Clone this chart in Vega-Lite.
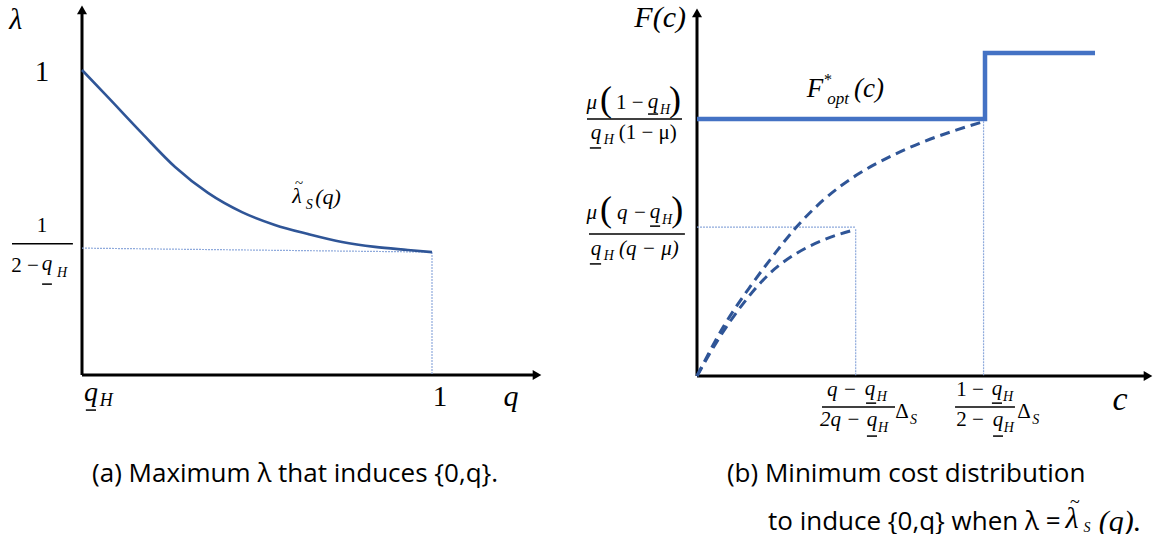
{
  "$schema": "https://vega.github.io/schema/vega-lite/v6.json",
  "autosize": "none",
  "width": 1157,
  "height": 534,
  "padding": 0,
  "background": "white",
  "config": {"view": {"stroke": null}},
  "datasets": {
    "leftAxes": [
      {"x": 0, "y": 0, "x2": 0, "y2": 1.19},
      {"x": 0, "y": 0, "x2": 1.29, "y2": 0}
    ],
    "leftArrows": [
      {"x": 0, "y": 1.197, "dir": "up"},
      {"x": 1.3, "y": 0, "dir": "right"}
    ],
    "leftGuides": [
      {"x": 0, "y": 0.416, "x2": 1, "y2": 0.403},
      {"x": 1, "y": 0.403, "x2": 1, "y2": 0}
    ],
    "lambdaCurve": [
      {"q": 0, "lambda": 1.0},
      {"q": 0.074, "lambda": 0.911},
      {"q": 0.171, "lambda": 0.793},
      {"q": 0.266, "lambda": 0.682},
      {"q": 0.36, "lambda": 0.597},
      {"q": 0.457, "lambda": 0.534},
      {"q": 0.551, "lambda": 0.492},
      {"q": 0.646, "lambda": 0.462},
      {"q": 0.743, "lambda": 0.436},
      {"q": 0.837, "lambda": 0.42},
      {"q": 0.931, "lambda": 0.41},
      {"q": 1, "lambda": 0.403}
    ],
    "leftBars": [
      {"x": -0.2, "x2": -0.026, "y": 0.43},
      {"x": -0.114, "x2": -0.086, "y": 0.298},
      {"x": 0.011, "x2": 0.04, "y": -0.115}
    ],
    "leftItalic": [
      {"x": -0.189, "y": 1.164, "label": "λ", "role": "axis"},
      {"x": 1.226, "y": -0.072, "label": "q", "role": "axis"},
      {"x": -0.1, "y": 0.364, "label": "q", "role": "frac"},
      {"x": -0.057, "y": 0.334, "label": "H", "role": "sub"},
      {"x": 0.026, "y": -0.059, "label": "q", "role": "tick"},
      {"x": 0.069, "y": -0.085, "label": "H", "role": "subL"},
      {"x": 0.614, "y": 0.587, "label": "λ", "role": "label"},
      {"x": 0.649, "y": 0.558, "label": "S", "role": "sub"},
      {"x": 0.703, "y": 0.584, "label": "(q)", "role": "label"}
    ],
    "leftUpright": [
      {"x": -0.114, "y": 0.993, "label": "1", "role": "tick"},
      {"x": 1.023, "y": -0.072, "label": "1", "role": "tick"},
      {"x": -0.114, "y": 0.489, "label": "1", "role": "frac"},
      {"x": -0.163, "y": 0.357, "label": "2 −", "role": "frac"},
      {"x": 0.62, "y": 0.63, "label": "~", "role": "tilde"}
    ],
    "leftCaption": [
      {"x": 0.0286, "y": -0.325, "label": "(a) Maximum λ that induces {0,q}."}
    ],
    "rightAxes": [
      {"x": 0, "y": 0, "x2": 0, "y2": 1.12},
      {"x": 0, "y": 0, "x2": 1.555, "y2": 0}
    ],
    "rightArrows": [
      {"x": 0, "y": 1.124, "dir": "up"},
      {"x": 1.566, "y": 0, "dir": "right"}
    ],
    "rightGuides": [
      {"x": 0, "y": 0.461, "x2": 0.551, "y2": 0.461},
      {"x": 0.551, "y": 0.454, "x2": 0.551, "y2": 0},
      {"x": 0.995, "y": 0.789, "x2": 0.995, "y2": 0}
    ],
    "fOpt": [
      {"i": 0, "c": 0, "F": 0.796},
      {"i": 1, "c": 1, "F": 0.796},
      {"i": 2, "c": 1, "F": 1.0},
      {"i": 3, "c": 1.382, "F": 1.0}
    ],
    "fCurves": [
      {"curve": "full", "c": 0, "F": 0},
      {"curve": "full", "c": 0.092, "F": 0.153},
      {"curve": "full", "c": 0.184, "F": 0.276},
      {"curve": "full", "c": 0.253, "F": 0.359},
      {"curve": "full", "c": 0.346, "F": 0.462},
      {"curve": "full", "c": 0.439, "F": 0.545},
      {"curve": "full", "c": 0.554, "F": 0.622},
      {"curve": "full", "c": 0.67, "F": 0.679},
      {"curve": "full", "c": 0.786, "F": 0.725},
      {"curve": "full", "c": 0.902, "F": 0.762},
      {"curve": "full", "c": 1.0, "F": 0.789},
      {"curve": "partial", "c": 0, "F": 0},
      {"curve": "partial", "c": 0.08, "F": 0.122},
      {"curve": "partial", "c": 0.161, "F": 0.225},
      {"curve": "partial", "c": 0.253, "F": 0.318},
      {"curve": "partial", "c": 0.346, "F": 0.38},
      {"curve": "partial", "c": 0.439, "F": 0.421},
      {"curve": "partial", "c": 0.551, "F": 0.454}
    ],
    "rightBars": [
      {"x": -0.382, "x2": -0.052, "y": 0.796},
      {"x": -0.17, "x2": -0.135, "y": 0.811},
      {"x": -0.372, "x2": -0.333, "y": 0.706},
      {"x": -0.375, "x2": -0.042, "y": 0.44},
      {"x": -0.163, "x2": -0.128, "y": 0.464},
      {"x": -0.372, "x2": -0.333, "y": 0.347},
      {"x": 0.434, "x2": 0.6875, "y": -0.096},
      {"x": 0.587, "x2": 0.622, "y": -0.084},
      {"x": 0.59, "x2": 0.625, "y": -0.186},
      {"x": 0.896, "x2": 1.104, "y": -0.096},
      {"x": 1.024, "x2": 1.059, "y": -0.084},
      {"x": 1.028, "x2": 1.0625, "y": -0.186}
    ],
    "rightItalic": [
      {"x": -0.128, "y": 1.108, "label": "F(c)", "role": "axis"},
      {"x": 0.41, "y": 0.889, "label": "F", "role": "fopt"},
      {"x": 0.597, "y": 0.889, "label": "(c)", "role": "fopt"},
      {"x": 0.49, "y": 0.858, "label": "opt", "role": "opt"},
      {"x": -0.365, "y": 0.845, "label": "μ", "role": "frac"},
      {"x": -0.153, "y": 0.848, "label": "q", "role": "frac"},
      {"x": -0.111, "y": 0.824, "label": "H", "role": "sub"},
      {"x": -0.351, "y": 0.752, "label": "q", "role": "frac"},
      {"x": -0.306, "y": 0.731, "label": "H", "role": "sub"},
      {"x": -0.365, "y": 0.505, "label": "μ", "role": "frac"},
      {"x": -0.226, "y": 0.505, "label": "q −", "role": "frac"},
      {"x": -0.146, "y": 0.508, "label": "q", "role": "frac"},
      {"x": -0.104, "y": 0.483, "label": "H", "role": "sub"},
      {"x": -0.351, "y": 0.393, "label": "q", "role": "frac"},
      {"x": -0.306, "y": 0.372, "label": "H", "role": "sub"},
      {"x": -0.167, "y": 0.393, "label": "(q − μ)", "role": "frac"},
      {"x": 0.503, "y": -0.043, "label": "q −", "role": "frac"},
      {"x": 0.601, "y": -0.04, "label": "q", "role": "frac"},
      {"x": 0.642, "y": -0.065, "label": "H", "role": "sub"},
      {"x": 0.497, "y": -0.136, "label": "2q −", "role": "frac"},
      {"x": 0.608, "y": -0.136, "label": "q", "role": "frac"},
      {"x": 0.646, "y": -0.161, "label": "H", "role": "sub"},
      {"x": 0.752, "y": -0.135, "label": "S", "role": "sub"},
      {"x": 1.042, "y": -0.04, "label": "q", "role": "frac"},
      {"x": 1.08, "y": -0.065, "label": "H", "role": "sub"},
      {"x": 1.045, "y": -0.136, "label": "q", "role": "frac"},
      {"x": 1.083, "y": -0.161, "label": "H", "role": "sub"},
      {"x": 1.176, "y": -0.135, "label": "S", "role": "sub"},
      {"x": 1.469, "y": -0.074, "label": "c", "role": "big"},
      {"x": 1.302, "y": -0.443, "label": "λ", "role": "capm"},
      {"x": 1.354, "y": -0.471, "label": "S", "role": "sub"},
      {"x": 1.469, "y": -0.452, "label": "(q).", "role": "capm"}
    ],
    "rightUpright": [
      {"x": 0.455, "y": 0.916, "label": "*", "role": "star"},
      {"x": -0.316, "y": 0.854, "label": "(", "role": "paren"},
      {"x": -0.076, "y": 0.854, "label": ")", "role": "paren"},
      {"x": -0.316, "y": 0.514, "label": "(", "role": "paren"},
      {"x": -0.069, "y": 0.514, "label": ")", "role": "paren"},
      {"x": -0.233, "y": 0.845, "label": "1 −", "role": "frac"},
      {"x": -0.171, "y": 0.752, "label": "(1 − μ)", "role": "frac"},
      {"x": 0.712, "y": -0.111, "label": "Δ", "role": "frac"},
      {"x": 0.948, "y": -0.043, "label": "1 −", "role": "frac"},
      {"x": 0.948, "y": -0.136, "label": "2 −", "role": "frac"},
      {"x": 1.135, "y": -0.111, "label": "Δ", "role": "frac"},
      {"x": 1.312, "y": -0.393, "label": "~", "role": "tilde"}
    ],
    "rightCaption": [
      {"x": 0.104, "y": -0.303, "label": "(b) Minimum cost distribution"},
      {"x": 0.2465, "y": -0.452, "label": "to induce {0,q} when λ ="}
    ]
  },
  "layer": [
    {
      "encoding": {
        "x": {"field": "x", "type": "quantitative", "scale": {"domain": [0, 1], "range": [82, 432], "nice": false, "zero": false}, "axis": null},
        "y": {"field": "y", "type": "quantitative", "scale": {"domain": [0, 1], "range": [375, 70], "nice": false, "zero": false}, "axis": null}
      },
      "layer": [
        {
          "data": {"name": "leftAxes"},
          "mark": {"type": "rule", "color": "black", "strokeWidth": 3},
          "encoding": {"x2": {"field": "x2"}, "y2": {"field": "y2"}}
        },
        {
          "data": {"name": "leftArrows"},
          "mark": {"type": "point", "filled": true, "color": "black", "opacity": 1, "size": 100},
          "encoding": {
            "shape": {"field": "dir", "type": "nominal", "scale": {"domain": ["up", "right"], "range": ["triangle-up", "triangle-right"]}, "legend": null}
          }
        },
        {
          "data": {"name": "leftGuides"},
          "mark": {"type": "rule", "color": "#8FAADC", "strokeWidth": 1.2, "strokeDash": [2, 1]},
          "encoding": {"x2": {"field": "x2"}, "y2": {"field": "y2"}}
        },
        {
          "data": {"name": "lambdaCurve"},
          "mark": {"type": "line", "color": "#2F5597", "strokeWidth": 2.6, "interpolate": "monotone"},
          "encoding": {
            "x": {"field": "q", "type": "quantitative", "scale": {"domain": [0, 1], "range": [82, 432], "nice": false, "zero": false}, "axis": null},
            "y": {"field": "lambda", "type": "quantitative", "scale": {"domain": [0, 1], "range": [375, 70], "nice": false, "zero": false}, "axis": null}
          }
        },
        {
          "data": {"name": "leftBars"},
          "mark": {"type": "rule", "color": "black", "strokeWidth": 1.5},
          "encoding": {"x2": {"field": "x2"}}
        },
        {
          "data": {"name": "leftItalic"},
          "transform": [{"filter": "datum.role === 'axis'"}],
          "mark": {"type": "text", "font": "Liberation Serif", "fontStyle": "italic", "fontSize": 30, "baseline": "middle"},
          "encoding": {"text": {"field": "label"}}
        },
        {
          "data": {"name": "leftItalic"},
          "transform": [{"filter": "datum.role === 'tick'"}],
          "mark": {"type": "text", "font": "Liberation Serif", "fontStyle": "italic", "fontSize": 28, "baseline": "middle"},
          "encoding": {"text": {"field": "label"}}
        },
        {
          "data": {"name": "leftItalic"},
          "transform": [{"filter": "datum.role === 'frac'"}],
          "mark": {"type": "text", "font": "Liberation Serif", "fontStyle": "italic", "fontSize": 21, "baseline": "middle"},
          "encoding": {"text": {"field": "label"}}
        },
        {
          "data": {"name": "leftItalic"},
          "transform": [{"filter": "datum.role === 'label'"}],
          "mark": {"type": "text", "font": "Liberation Serif", "fontStyle": "italic", "fontSize": 22, "baseline": "middle"},
          "encoding": {"text": {"field": "label"}}
        },
        {
          "data": {"name": "leftItalic"},
          "transform": [{"filter": "datum.role === 'sub'"}],
          "mark": {"type": "text", "font": "Liberation Serif", "fontStyle": "italic", "fontSize": 14, "baseline": "middle"},
          "encoding": {"text": {"field": "label"}}
        },
        {
          "data": {"name": "leftItalic"},
          "transform": [{"filter": "datum.role === 'subL'"}],
          "mark": {"type": "text", "font": "Liberation Serif", "fontStyle": "italic", "fontSize": 18, "baseline": "middle"},
          "encoding": {"text": {"field": "label"}}
        },
        {
          "data": {"name": "leftUpright"},
          "transform": [{"filter": "datum.role === 'tick'"}],
          "mark": {"type": "text", "font": "Liberation Serif", "fontSize": 29, "baseline": "middle"},
          "encoding": {"text": {"field": "label"}}
        },
        {
          "data": {"name": "leftUpright"},
          "transform": [{"filter": "datum.role === 'frac'"}],
          "mark": {"type": "text", "font": "Liberation Serif", "fontSize": 21, "baseline": "middle"},
          "encoding": {"text": {"field": "label"}}
        },
        {
          "data": {"name": "leftUpright"},
          "transform": [{"filter": "datum.role === 'tilde'"}],
          "mark": {"type": "text", "font": "Liberation Serif", "fontSize": 15, "baseline": "middle"},
          "encoding": {"text": {"field": "label"}}
        },
        {
          "data": {"name": "leftCaption"},
          "mark": {"type": "text", "font": "Open Sans", "fontSize": 26, "align": "left", "baseline": "middle"},
          "encoding": {"text": {"field": "label"}}
        }
      ]
    },
    {
      "encoding": {
        "x": {"field": "x", "type": "quantitative", "scale": {"domain": [0, 1], "range": [697, 985], "nice": false, "zero": false}, "axis": null},
        "y": {"field": "y", "type": "quantitative", "scale": {"domain": [0, 1], "range": [376, 53], "nice": false, "zero": false}, "axis": null}
      },
      "layer": [
        {
          "data": {"name": "rightAxes"},
          "mark": {"type": "rule", "color": "black", "strokeWidth": 3},
          "encoding": {"x2": {"field": "x2"}, "y2": {"field": "y2"}}
        },
        {
          "data": {"name": "rightArrows"},
          "mark": {"type": "point", "filled": true, "color": "black", "opacity": 1, "size": 100},
          "encoding": {
            "shape": {"field": "dir", "type": "nominal", "scale": {"domain": ["up", "right"], "range": ["triangle-up", "triangle-right"]}, "legend": null}
          }
        },
        {
          "data": {"name": "rightGuides"},
          "mark": {"type": "rule", "color": "#8FAADC", "strokeWidth": 1.2, "strokeDash": [2, 1]},
          "encoding": {"x2": {"field": "x2"}, "y2": {"field": "y2"}}
        },
        {
          "data": {"name": "fCurves"},
          "mark": {"type": "line", "color": "#2F5597", "strokeWidth": 3, "strokeDash": [10, 6], "interpolate": "monotone"},
          "encoding": {
            "x": {"field": "c", "type": "quantitative", "scale": {"domain": [0, 1], "range": [697, 985], "nice": false, "zero": false}, "axis": null},
            "y": {"field": "F", "type": "quantitative", "scale": {"domain": [0, 1], "range": [376, 53], "nice": false, "zero": false}, "axis": null},
            "detail": {"field": "curve", "type": "nominal"}
          }
        },
        {
          "data": {"name": "fOpt"},
          "mark": {"type": "line", "color": "#4472C4", "strokeWidth": 4.5, "strokeJoin": "miter"},
          "encoding": {
            "x": {"field": "c", "type": "quantitative", "scale": {"domain": [0, 1], "range": [697, 985], "nice": false, "zero": false}, "axis": null},
            "y": {"field": "F", "type": "quantitative", "scale": {"domain": [0, 1], "range": [376, 53], "nice": false, "zero": false}, "axis": null},
            "order": {"field": "i", "type": "quantitative"}
          }
        },
        {
          "data": {"name": "rightBars"},
          "mark": {"type": "rule", "color": "black", "strokeWidth": 1.5},
          "encoding": {"x2": {"field": "x2"}}
        },
        {
          "data": {"name": "rightItalic"},
          "transform": [{"filter": "datum.role === 'axis'"}],
          "mark": {"type": "text", "font": "Liberation Serif", "fontStyle": "italic", "fontSize": 30, "baseline": "middle"},
          "encoding": {"text": {"field": "label"}}
        },
        {
          "data": {"name": "rightItalic"},
          "transform": [{"filter": "datum.role === 'fopt'"}],
          "mark": {"type": "text", "font": "Liberation Serif", "fontStyle": "italic", "fontSize": 27, "baseline": "middle"},
          "encoding": {"text": {"field": "label"}}
        },
        {
          "data": {"name": "rightItalic"},
          "transform": [{"filter": "datum.role === 'opt'"}],
          "mark": {"type": "text", "font": "Liberation Serif", "fontStyle": "italic", "fontSize": 17, "baseline": "middle"},
          "encoding": {"text": {"field": "label"}}
        },
        {
          "data": {"name": "rightItalic"},
          "transform": [{"filter": "datum.role === 'frac'"}],
          "mark": {"type": "text", "font": "Liberation Serif", "fontStyle": "italic", "fontSize": 21, "baseline": "middle"},
          "encoding": {"text": {"field": "label"}}
        },
        {
          "data": {"name": "rightItalic"},
          "transform": [{"filter": "datum.role === 'sub'"}],
          "mark": {"type": "text", "font": "Liberation Serif", "fontStyle": "italic", "fontSize": 14, "baseline": "middle"},
          "encoding": {"text": {"field": "label"}}
        },
        {
          "data": {"name": "rightItalic"},
          "transform": [{"filter": "datum.role === 'big'"}],
          "mark": {"type": "text", "font": "Liberation Serif", "fontStyle": "italic", "fontSize": 34, "baseline": "middle"},
          "encoding": {"text": {"field": "label"}}
        },
        {
          "data": {"name": "rightItalic"},
          "transform": [{"filter": "datum.role === 'capm'"}],
          "mark": {"type": "text", "font": "Liberation Serif", "fontStyle": "italic", "fontSize": 30, "baseline": "middle"},
          "encoding": {"text": {"field": "label"}}
        },
        {
          "data": {"name": "rightUpright"},
          "transform": [{"filter": "datum.role === 'star'"}],
          "mark": {"type": "text", "font": "Liberation Serif", "fontSize": 16, "baseline": "middle"},
          "encoding": {"text": {"field": "label"}}
        },
        {
          "data": {"name": "rightUpright"},
          "transform": [{"filter": "datum.role === 'paren'"}],
          "mark": {"type": "text", "font": "Liberation Serif", "fontSize": 36, "baseline": "middle"},
          "encoding": {"text": {"field": "label"}}
        },
        {
          "data": {"name": "rightUpright"},
          "transform": [{"filter": "datum.role === 'frac'"}],
          "mark": {"type": "text", "font": "Liberation Serif", "fontSize": 21, "baseline": "middle"},
          "encoding": {"text": {"field": "label"}}
        },
        {
          "data": {"name": "rightUpright"},
          "transform": [{"filter": "datum.role === 'tilde'"}],
          "mark": {"type": "text", "font": "Liberation Serif", "fontSize": 18, "baseline": "middle"},
          "encoding": {"text": {"field": "label"}}
        },
        {
          "data": {"name": "rightCaption"},
          "mark": {"type": "text", "font": "Open Sans", "fontSize": 26, "align": "left", "baseline": "middle"},
          "encoding": {"text": {"field": "label"}}
        }
      ]
    }
  ],
  "resolve": {"scale": {"x": "independent", "y": "independent"}}
}
